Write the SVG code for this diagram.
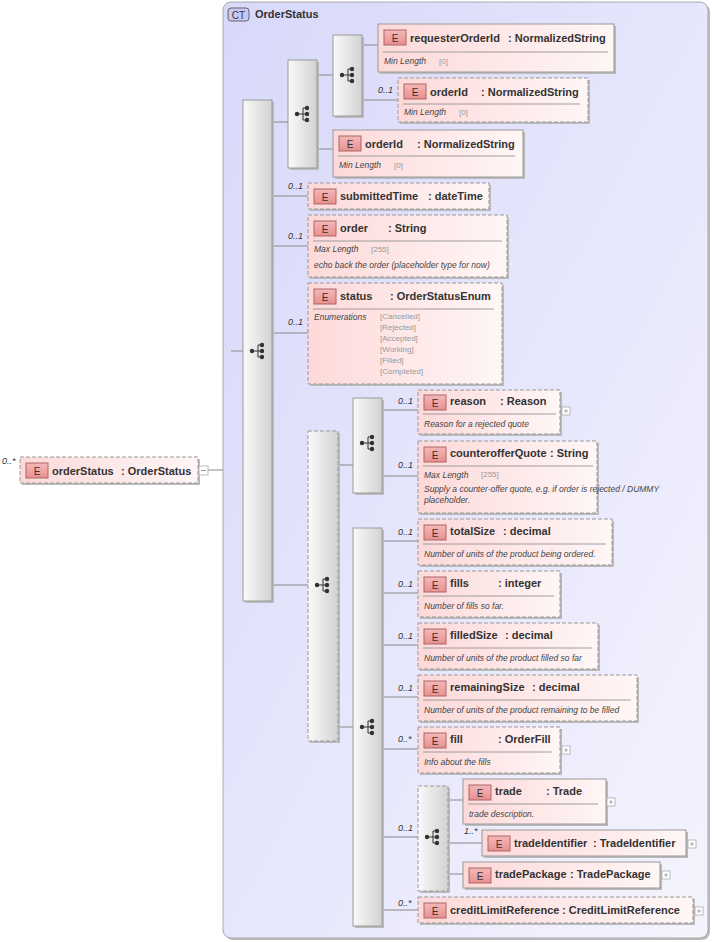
<svg xmlns="http://www.w3.org/2000/svg" width="712" height="942" viewBox="0 0 712 942">
<defs>
<linearGradient id="pink" x1="0" y1="0" x2="1" y2="0"><stop offset="0" stop-color="#fdd9d9"/><stop offset="1" stop-color="#fff6f6"/></linearGradient>
<linearGradient id="gray" x1="0" y1="0" x2="1" y2="0"><stop offset="0" stop-color="#fafafa"/><stop offset="1" stop-color="#d2d2d2"/></linearGradient>
<linearGradient id="badge" x1="0" y1="0" x2="0" y2="1"><stop offset="0" stop-color="#f6b8b8"/><stop offset="1" stop-color="#e88f8f"/></linearGradient>
<linearGradient id="ct" x1="0" y1="0" x2="1" y2="1"><stop offset="0" stop-color="#d8d8fa"/><stop offset="1" stop-color="#f4f4fe"/></linearGradient>
<g id="ico"><circle cx="-6" cy="0" r="2.2"/><path d="M-6 0H0M0-6V6H3M0-6H3M0 0H3" fill="none" stroke="#333" stroke-width="1"/><circle cx="4" cy="-6" r="2.2"/><circle cx="4" cy="0" r="2.2"/><circle cx="4" cy="6" r="2.2"/></g>
<g id="plus"><rect x="0" y="-4" width="8" height="8" fill="#fff" stroke="#aaa" stroke-width="0.8"/><path d="M2 0H6M4-2V2" stroke="#999" stroke-width="0.8"/></g>
<g id="eb"><rect x="0" y="0" width="22" height="15" fill="url(#badge)" stroke="#a66" stroke-width="1"/><text x="11" y="11.5" text-anchor="middle" class="eb">E</text></g>
</defs>
<style>
text{font-family:"Liberation Sans",Arial,sans-serif;fill:#333}
.n{font-size:11px;font-weight:bold}
.eb{font-size:10px;fill:#333}
.c{font-size:9px;font-style:italic;fill:#333}
.a{font-size:8.5px;font-style:italic;fill:#444}
.v{font-size:8px;fill:#999}
.el{fill:url(#pink);stroke:#999;stroke-width:1}
.d{stroke-dasharray:4,2}
.sh{fill:#bbb}
.cp{fill:url(#gray);stroke:#999;stroke-width:1}
.ln{stroke:#888;stroke-width:1;fill:none}
.sep{stroke:#888;stroke-width:0.8}
</style>
<g id="ctbox">
<rect x="225" y="4" width="485" height="936" rx="8" fill="#bbb"/>
<rect x="223" y="2" width="485" height="936" rx="8" fill="url(#ct)" stroke="#aaa"/>
<rect x="228" y="8" width="21" height="13" rx="3" fill="#c8c8f4" stroke="#666"/>
<text x="238.5" y="18.5" text-anchor="middle" style="font-size:10px">CT</text>
<text x="255" y="18" class="n">OrderStatus</text>
</g>
<g id="connectors">
<path class="ln" d="M208 470H223M231 351H243M272 122H288M272 196H308M272 246H308M272 333H308M272 585H308M317 75H333M317 149H333M362 45H378M362 100H398M338 465H353M338 727H353M382 410H418M382 476H418M382 541H418M382 593H418M382 645H418M382 697H418M382 749H418M382 837H418M382 910H418M448 800H463M448 843H482M448 874H463"/>
</g>
<g id="compartments">
<rect class="sh" x="245" y="102" width="29" height="501"/><rect class="cp" x="243" y="100" width="29" height="501"/><use href="#ico" x="258" y="351" fill="#333"/>
<rect class="sh" x="290" y="62" width="29" height="108"/><rect class="cp" x="288" y="60" width="29" height="108"/><use href="#ico" x="303" y="114" fill="#333"/>
<rect class="sh" x="335" y="37" width="29" height="81"/><rect class="cp" x="333" y="35" width="29" height="81"/><use href="#ico" x="348" y="75" fill="#333"/>
<rect class="sh" x="310" y="433" width="30" height="310"/><rect class="cp d" x="308" y="431" width="30" height="310"/><use href="#ico" x="323" y="585" fill="#333"/>
<rect class="sh" x="355" y="400" width="29" height="95"/><rect class="cp" x="353" y="398" width="29" height="95"/><use href="#ico" x="368" y="443" fill="#333"/>
<rect class="sh" x="355" y="530" width="29" height="398"/><rect class="cp" x="353" y="528" width="29" height="398"/><use href="#ico" x="368" y="727" fill="#333"/>
<rect class="sh" x="420" y="788" width="30" height="105"/><rect class="cp d" x="418" y="786" width="30" height="105"/><use href="#ico" x="433" y="837" fill="#333"/>
</g>
<g id="orderStatus"><rect class="sh" x="22" y="459" width="178" height="26"/><rect class="el d" x="20" y="457" width="178" height="26"/><use href="#eb" x="26" y="463"/><text x="52" y="475" class="n">orderStatus</text><text x="121" y="475" class="n">: OrderStatus</text><text x="2" y="464" class="c">0..*</text><rect x="199" y="466" width="9" height="9" fill="#fff" stroke="#aaa" stroke-width="0.8"/><path d="M201 470.5H206" stroke="#999"/></g>
<g id="requesterOrderId"><rect class="sh" x="380" y="26" width="236" height="48"/><rect class="el" x="378" y="24" width="236" height="48"/><use href="#eb" x="384" y="30"/><text x="410" y="42" class="n">requesterOrderId</text><text x="508" y="42" class="n">: NormalizedString</text><line class="sep" x1="383" y1="52" x2="608" y2="52"/><text x="384" y="64" class="a">Min Length</text><text x="439" y="64" class="v">[0]</text></g>
<g id="orderId1"><rect class="sh" x="400" y="80" width="190" height="44"/><rect class="el d" x="398" y="78" width="190" height="44"/><text x="378" y="93" class="c">0..1</text><use href="#eb" x="404" y="84"/><text x="430" y="96" class="n">orderId</text><text x="481" y="96" class="n">: NormalizedString</text><line class="sep" x1="403" y1="104" x2="580" y2="104"/><text x="404" y="115" class="a">Min Length</text><text x="459" y="115" class="v">[0]</text></g>
<g id="orderId2"><rect class="sh" x="335" y="132" width="190" height="47"/><rect class="el" x="333" y="130" width="190" height="47"/><use href="#eb" x="339" y="136"/><text x="365" y="148" class="n">orderId</text><text x="417" y="148" class="n">: NormalizedString</text><line class="sep" x1="338" y1="156" x2="515" y2="156"/><text x="339" y="168" class="a">Min Length</text><text x="394" y="168" class="v">[0]</text></g>
<g id="submittedTime"><rect class="sh" x="310" y="185" width="181" height="26"/><rect class="el d" x="308" y="183" width="181" height="26"/><text x="288" y="189" class="c">0..1</text><use href="#eb" x="314" y="189"/><text x="340" y="200" class="n">submittedTime</text><text x="428" y="200" class="n">: dateTime</text></g>
<g id="order"><rect class="sh" x="310" y="217" width="199" height="62"/><rect class="el d" x="308" y="215" width="199" height="62"/><text x="288" y="239" class="c">0..1</text><use href="#eb" x="314" y="221"/><text x="340" y="232" class="n">order</text><text x="388" y="232" class="n">: String</text><line class="sep" x1="313" y1="241" x2="502" y2="241"/><text x="314" y="252" class="a">Max Length</text><text x="371" y="252" class="v">[255]</text><text x="314" y="268" class="a">echo back the order (placeholder type for now)</text></g>
<g id="status"><rect class="sh" x="310" y="285" width="194" height="101"/><rect class="el d" x="308" y="283" width="194" height="101"/><text x="288" y="325" class="c">0..1</text><use href="#eb" x="314" y="289"/><text x="340" y="300" class="n">status</text><text x="390" y="300" class="n">: OrderStatusEnum</text><line class="sep" x1="313" y1="309" x2="494" y2="309"/><text x="314" y="320" class="a">Enumerations</text><text x="380" y="319" class="v">[Cancelled]</text><text x="380" y="330" class="v">[Rejected]</text><text x="380" y="341" class="v">[Accepted]</text><text x="380" y="352" class="v">[Working]</text><text x="380" y="363" class="v">[Filled]</text><text x="380" y="374" class="v">[Completed]</text></g>
<g id="reason"><rect class="sh" x="420" y="392" width="142" height="44"/><rect class="el d" x="418" y="390" width="142" height="44"/><text x="398" y="404" class="c">0..1</text><use href="#eb" x="424" y="395"/><text x="450" y="405" class="n">reason</text><text x="500" y="405" class="n">: Reason</text><line class="sep" x1="423" y1="414" x2="556" y2="414"/><text x="424" y="427" class="a">Reason for a rejected quote</text><use href="#plus" x="562" y="411"/></g>
<g id="counterofferQuote"><rect class="sh" x="420" y="443" width="179" height="72"/><rect class="el d" x="418" y="441" width="179" height="72"/><text x="398" y="468" class="c">0..1</text><use href="#eb" x="424" y="447"/><text x="450" y="457" class="n">counterofferQuote</text><text x="550" y="457" class="n">: String</text><line class="sep" x1="423" y1="466" x2="593" y2="466"/><text x="424" y="478" class="a">Max Length</text><text x="481" y="477" class="v">[255]</text><text x="424" y="492" class="a">Supply a counter-offer quote, e.g. if order is rejected / DUMMY</text><text x="424" y="503" class="a">placeholder.</text></g>
<g id="totalSize"><rect class="sh" x="420" y="521" width="194" height="46"/><rect class="el d" x="418" y="519" width="194" height="46"/><text x="398" y="535" class="c">0..1</text><use href="#eb" x="424" y="525"/><text x="450" y="535" class="n">totalSize</text><text x="503" y="535" class="n">: decimal</text><line class="sep" x1="423" y1="544" x2="606" y2="544"/><text x="424" y="557" class="a">Number of units of the product being ordered.</text></g>
<g id="fills"><rect class="sh" x="420" y="573" width="142" height="46"/><rect class="el d" x="418" y="571" width="142" height="46"/><text x="398" y="587" class="c">0..1</text><use href="#eb" x="424" y="577"/><text x="450" y="587" class="n">fills</text><text x="498" y="587" class="n">: integer</text><line class="sep" x1="423" y1="596" x2="554" y2="596"/><text x="424" y="609" class="a">Number of fills so far.</text></g>
<g id="filledSize"><rect class="sh" x="420" y="625" width="180" height="46"/><rect class="el d" x="418" y="623" width="180" height="46"/><text x="398" y="639" class="c">0..1</text><use href="#eb" x="424" y="629"/><text x="450" y="639" class="n">filledSize</text><text x="505" y="639" class="n">: decimal</text><line class="sep" x1="423" y1="648" x2="592" y2="648"/><text x="424" y="661" class="a">Number of units of the product filled so far</text></g>
<g id="remainingSize"><rect class="sh" x="420" y="677" width="219" height="46"/><rect class="el d" x="418" y="675" width="219" height="46"/><text x="398" y="691" class="c">0..1</text><use href="#eb" x="424" y="681"/><text x="450" y="691" class="n">remainingSize</text><text x="532" y="691" class="n">: decimal</text><line class="sep" x1="423" y1="700" x2="631" y2="700"/><text x="424" y="713" class="a">Number of units of the product remaining to be filled</text></g>
<g id="fill"><rect class="sh" x="420" y="729" width="142" height="46"/><rect class="el d" x="418" y="727" width="142" height="46"/><text x="398" y="742" class="c">0..*</text><use href="#eb" x="424" y="733"/><text x="450" y="743" class="n">fill</text><text x="498" y="743" class="n">: OrderFill</text><line class="sep" x1="423" y1="752" x2="552" y2="752"/><text x="424" y="765" class="a">Info about the fills</text><use href="#plus" x="562" y="750"/></g>
<text x="398" y="831" class="c">0..1</text>
<g id="trade"><rect class="sh" x="465" y="781" width="143" height="45"/><rect class="el" x="463" y="779" width="143" height="45"/><use href="#eb" x="469" y="785"/><text x="495" y="795" class="n">trade</text><text x="546" y="795" class="n">: Trade</text><line class="sep" x1="468" y1="804" x2="598" y2="804"/><text x="469" y="817" class="a">trade description.</text><use href="#plus" x="607" y="802"/></g>
<g id="tradeIdentifier"><rect class="sh" x="484" y="832" width="204" height="26"/><rect class="el" x="482" y="830" width="204" height="26"/><text x="464" y="834" class="c">1..*</text><use href="#eb" x="488" y="836"/><text x="514" y="847" class="n">tradeIdentifier</text><text x="593" y="847" class="n">: TradeIdentifier</text><use href="#plus" x="688" y="844"/></g>
<g id="tradePackage"><rect class="sh" x="465" y="864" width="197" height="26"/><rect class="el" x="463" y="862" width="197" height="26"/><use href="#eb" x="469" y="868"/><text x="495" y="878" class="n">tradePackage</text><text x="570" y="878" class="n">: TradePackage</text><use href="#plus" x="662" y="875"/></g>
<g id="creditLimitReference"><rect class="sh" x="420" y="899" width="275" height="26"/><rect class="el d" x="418" y="897" width="275" height="26"/><text x="398" y="906" class="c">0..*</text><use href="#eb" x="424" y="903"/><text x="450" y="914" class="n">creditLimitReference</text><text x="562" y="914" class="n">: CreditLimitReference</text><use href="#plus" x="695" y="911"/></g>
</svg>
